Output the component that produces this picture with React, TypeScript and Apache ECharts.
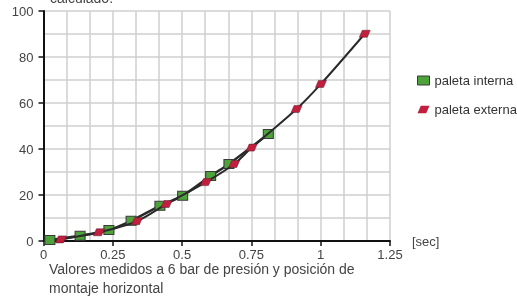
import React, { useEffect, useRef } from "react";
import * as echarts from "echarts";

const internaX = [0.023, 0.132, 0.236, 0.316, 0.42, 0.502, 0.603, 0.669, 0.811];
const internaY = [0.4, 2.3, 4.8, 8.8, 15.3, 19.7, 28.3, 33.5, 46.5];
const externaX = [0.063, 0.2, 0.337, 0.444, 0.586, 0.688, 0.751, 0.913, 1.001, 1.159];
const externaY = [0.7, 3.8, 8.6, 16.1, 25.6, 33.5, 40.6, 57.4, 68.3, 90.1];
const seriesNames = ["paleta interna", "paleta externa"];
const xTicks = [0, 0.25, 0.5, 0.75, 1, 1.25];
const noteLines = ["Valores medidos a 6 bar de presión y posición de", "montaje horizontal"];
const topNote = "calculado.";
const xUnit = "[sec]";

const FONT = "Liberation Sans, Arial, sans-serif";
const PARA = "path://M3,0 L11,0 L8,7 L0,7 Z";

export default function App() {
  const ref = useRef<HTMLDivElement>(null);
  useEffect(() => {
    if (!ref.current) return;
    const chart = echarts.init(ref.current, undefined, { renderer: "svg" });
    const zip = (xs: number[], ys: number[]) => xs.map((x, i) => [x, ys[i]]);
    chart.setOption({
      animation: false,
      textStyle: { fontFamily: FONT },
      grid: { left: 43.5, right: 127, top: 11, bottom: 60, containLabel: false },
      xAxis: {
        type: "value",
        min: 0,
        max: 1.25,
        interval: 0.25,
        name: xUnit,
        nameLocation: "end",
        nameGap: 22,
        nameTextStyle: { color: "#444", fontSize: 13, fontFamily: FONT, verticalAlign: "middle" },
        axisLine: { show: true, onZero: false, lineStyle: { color: "#111", width: 2 } },
        axisTick: { show: true, length: 5, lineStyle: { color: "#111", width: 1.5 } },
        axisLabel: {
          color: "#444",
          fontSize: 13,
          margin: 7,
          fontFamily: FONT,
          formatter: (v: number) => (xTicks.includes(v) ? String(v) : ""),
        },
        splitLine: { show: true, lineStyle: { color: "#cfcfcf", width: 1.5 } },
        minorTick: { show: false, splitNumber: 3 },
        minorSplitLine: { show: true, lineStyle: { color: "#cfcfcf", width: 1.5 } },
      },
      yAxis: {
        type: "value",
        min: 0,
        max: 100,
        interval: 20,
        axisLine: { show: true, onZero: false, lineStyle: { color: "#111", width: 2 } },
        axisTick: { show: true, length: 5, lineStyle: { color: "#111", width: 1.5 } },
        axisLabel: { color: "#444", fontSize: 13, margin: 10, fontFamily: FONT },
        splitLine: { show: true, lineStyle: { color: "#cfcfcf", width: 1.5 } },
        minorTick: { show: false, splitNumber: 2 },
        minorSplitLine: { show: true, lineStyle: { color: "#cfcfcf", width: 1.5 } },
      },
      legend: {
        orient: "vertical",
        left: 412,
        top: 69,
        itemGap: 16,
        itemWidth: 12,
        itemHeight: 9,
        textStyle: { color: "#333", fontSize: 13, fontFamily: FONT },
        data: [
          { name: seriesNames[0], icon: "rect", itemStyle: { color: "#4da33a", borderColor: "#3a3a3a", borderWidth: 1 } },
          { name: seriesNames[1], icon: PARA, itemStyle: { color: "#c21e3d", borderWidth: 0 } },
        ],
      },
      series: [
        {
          name: seriesNames[0],
          type: "line",
          smooth: 0.3,
          data: zip(internaX, internaY),
          symbol: "rect",
          symbolSize: [10, 9],
          itemStyle: { color: "#4da33a", borderColor: "#3a3a3a", borderWidth: 1 },
          lineStyle: { color: "#2a2a2a", width: 2.5 },
          z: 2,
        },
        {
          name: seriesNames[1],
          type: "line",
          smooth: 0.3,
          data: zip(externaX, externaY),
          symbol: PARA,
          symbolSize: [11, 7],
          itemStyle: { color: "#c21e3d", borderColor: "#5a2030", borderWidth: 0.5 },
          lineStyle: { color: "#2a2a2a", width: 2 },
          z: 3,
        },
      ],
      graphic: [
        {
          type: "text",
          left: 50,
          top: -9,
          style: { text: topNote, fill: "#444", font: `14px ${FONT}` },
        },
        {
          type: "text",
          left: 49,
          top: 262,
          style: { text: noteLines[0], fill: "#444", font: `14px ${FONT}` },
        },
        {
          type: "text",
          left: 49,
          top: 281,
          style: { text: noteLines[1], fill: "#444", font: `14px ${FONT}` },
        },
      ],
    });
    return () => chart.dispose();
  }, []);
  return <div ref={ref} style={{ position: "fixed", left: 0, top: 0, width: 517, height: 301 }} />;
}
